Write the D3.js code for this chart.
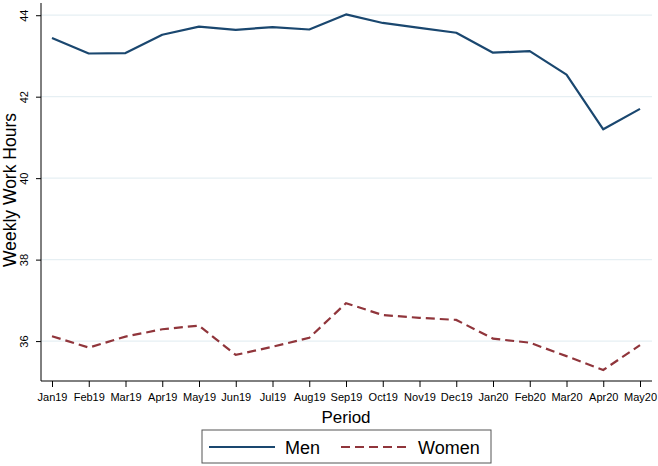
<!DOCTYPE html>
<html><head><meta charset="utf-8">
<script src="https://cdn.jsdelivr.net/npm/d3@7"></script>
<style>body{margin:0;background:#fff}svg{display:block;font-family:"Liberation Sans",Arial,sans-serif}</style>
</head><body><svg id="c" width="658" height="466"></svg>
<script>
const periods = ["Jan19","Feb19","Mar19","Apr19","May19","Jun19","Jul19","Aug19","Sep19","Oct19","Nov19","Dec19","Jan20","Feb20","Mar20","Apr20","May20"];
const men = [43.44,43.06,43.07,43.52,43.72,43.64,43.71,43.65,44.02,43.81,43.69,43.57,43.08,43.12,42.54,41.20,41.70];
const women = [36.12,35.84,36.11,36.29,36.38,35.66,35.86,36.08,36.93,36.64,36.57,36.52,36.06,35.96,35.63,35.29,35.90];
const yTicks = [36,38,40,42,44];
const seriesNames = ["Men","Women"];
const colors = ["#1a476f","#90353b"];

const svg = d3.select("#c");
const pLeft = 41, pRight = 652, pTop = 3, pBottom = 381;
const x = d3.scalePoint().domain(periods).range([52, 640]);
const y = d3.scaleLinear().domain([35.02, 44.3]).range([pBottom, pTop]);

// grid
svg.append("g").selectAll("line").data(yTicks).join("line")
  .attr("x1", pLeft).attr("x2", pRight)
  .attr("y1", d => y(d)).attr("y2", d => y(d))
  .attr("stroke", "#e6eff3").attr("stroke-width", 1.2);

// y axis
const ya = svg.append("g").attr("transform", `translate(${pLeft},0)`)
  .call(d3.axisLeft(y).tickValues(yTicks).tickSize(5).tickPadding(4).tickSizeOuter(0));
ya.select(".domain").attr("d", `M0,${pTop}V${pBottom}`).attr("stroke", "#000");
ya.selectAll(".tick line").attr("stroke", "#000");
ya.selectAll(".tick text").attr("font-size", 11).attr("fill", "#000")
  .attr("x", null).attr("dy", null)
  .attr("text-anchor", "middle")
  .attr("transform", "translate(-13,0) rotate(-90)")
  .attr("y", 0);

// x axis
const xa = svg.append("g").attr("transform", `translate(0,${pBottom})`)
  .call(d3.axisBottom(x).tickSize(6).tickPadding(6).tickSizeOuter(0));
xa.select(".domain").attr("d", `M${pLeft},0H${pRight}`).attr("stroke", "#000");
xa.selectAll(".tick line").attr("stroke", "#000");
xa.selectAll(".tick text").attr("font-size", 11).attr("fill", "#000");

// lines
const line = d3.line().x((d, i) => x(periods[i])).y(d => y(d));
svg.append("path").datum(men).attr("d", line).attr("fill", "none")
  .attr("stroke", colors[0]).attr("stroke-width", 2.2).attr("stroke-linejoin","round");
svg.append("path").datum(women).attr("d", line).attr("fill", "none")
  .attr("stroke", colors[1]).attr("stroke-width", 2.2).attr("stroke-dasharray", "9,5");

// titles
svg.append("text").attr("x", 346).attr("y", 423).attr("text-anchor", "middle")
  .attr("font-size", 17).text("Period");
svg.append("text").attr("transform", "translate(16,190) rotate(-90)").attr("text-anchor", "middle")
  .attr("font-size", 17.5).text("Weekly Work Hours");

// legend
svg.append("rect").attr("x", 202).attr("y", 430).attr("width", 289).attr("height", 33)
  .attr("fill", "#fff").attr("stroke", "#555").attr("stroke-width", 1);
const lg = [{x1:209,x2:275,tx:285},{x1:341,x2:410,tx:418}];
lg.forEach((p, i) => {
  svg.append("line").attr("x1", p.x1).attr("x2", p.x2).attr("y1", 447).attr("y2", 447)
    .attr("stroke", colors[i]).attr("stroke-width", 2.2)
    .attr("stroke-dasharray", i ? "9,5" : null);
  svg.append("text").attr("x", p.tx).attr("y", 453.5).attr("font-size", 18).text(seriesNames[i]);
});
</script></body></html>
